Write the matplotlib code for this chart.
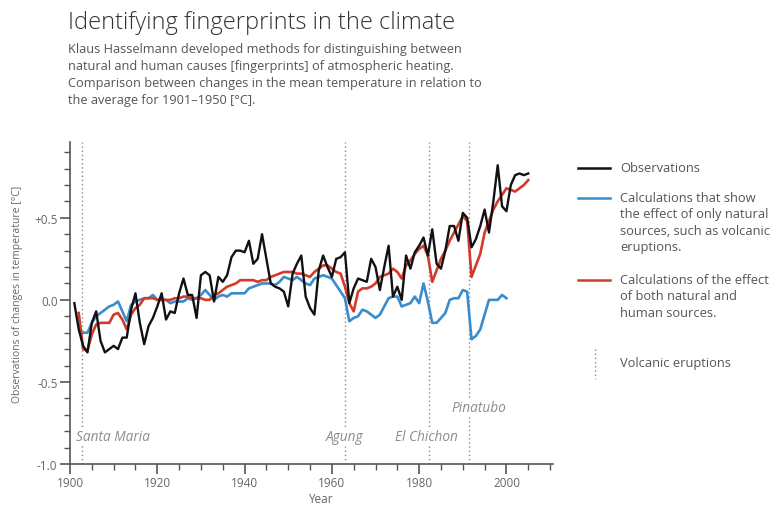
import matplotlib.pyplot as plt
import numpy as np

obs_years = np.arange(1901, 2006)
obs = [-0.02, -0.18, -0.28, -0.32, -0.14, -0.07, -0.25, -0.32, -0.30, -0.28,
       -0.30, -0.23, -0.23, -0.06, 0.04, -0.14, -0.27, -0.16, -0.11, -0.04,
       0.04, -0.12, -0.07, -0.08, 0.04, 0.13, 0.03, 0.03, -0.11, 0.15,
       0.17, 0.15, -0.01, 0.14, 0.11, 0.15, 0.26, 0.30, 0.30, 0.29,
       0.36, 0.22, 0.25, 0.40, 0.25, 0.10, 0.08, 0.07, 0.05, -0.04,
       0.16, 0.22, 0.27, 0.02, -0.05, -0.09, 0.18, 0.27, 0.20, 0.14,
       0.25, 0.26, 0.29, -0.02, 0.07, 0.13, 0.12, 0.11, 0.25, 0.20,
       0.06, 0.20, 0.33, 0.02, 0.08, 0.00, 0.27, 0.19, 0.29, 0.33,
       0.38, 0.27, 0.43, 0.22, 0.19, 0.30, 0.45, 0.45, 0.36, 0.53,
       0.50, 0.32, 0.37, 0.45, 0.55, 0.41, 0.60, 0.82, 0.57, 0.54,
       0.70, 0.76, 0.77, 0.76, 0.77]

# model: natural forcing only
nat_years = np.arange(1903, 2001)
natural = [-0.20, -0.20, -0.14, -0.10, -0.08, -0.06, -0.04, -0.03, -0.01, -0.07,
           -0.13, -0.03, -0.01, 0.00, 0.01, 0.01, 0.03, 0.00, 0.00, 0.00,
           -0.02, -0.01, -0.01, -0.01, 0.01, 0.00, 0.01, 0.03, 0.06, 0.03,
           0.00, 0.02, 0.03, 0.02, 0.04, 0.04, 0.04, 0.04, 0.07, 0.08,
           0.09, 0.10, 0.10, 0.10, 0.09, 0.11, 0.14, 0.13, 0.12, 0.14,
           0.12, 0.10, 0.09, 0.13, 0.14, 0.15, 0.14, 0.13, 0.09, 0.05,
           0.01, -0.13, -0.11, -0.10, -0.06, -0.07, -0.09, -0.11, -0.09, -0.04,
           0.01, 0.02, 0.02, -0.04, -0.03, -0.02, 0.02, -0.02, 0.10, -0.01,
           -0.14, -0.14, -0.11, -0.08, 0.00, 0.01, 0.01, 0.06, 0.05, -0.24,
           -0.22, -0.18, -0.09, 0.00, 0.00, 0.00, 0.03, 0.01]

# model: natural + human forcing
all_years = np.arange(1902, 2006)
combined = [-0.08, -0.30, -0.31, -0.21, -0.15, -0.14, -0.14, -0.14, -0.09, -0.08,
            -0.12, -0.18, -0.09, -0.05, -0.03, 0.01, 0.01, 0.01, 0.00, 0.00,
            0.00, 0.00, 0.01, 0.01, 0.02, 0.02, 0.01, 0.01, 0.01, 0.00,
            0.00, 0.03, 0.04, 0.06, 0.08, 0.09, 0.10, 0.12, 0.12, 0.12,
            0.12, 0.11, 0.12, 0.12, 0.14, 0.15, 0.16, 0.17, 0.17, 0.17,
            0.16, 0.16, 0.15, 0.14, 0.17, 0.19, 0.21, 0.21, 0.19, 0.17,
            0.16, 0.08, -0.02, -0.07, 0.05, 0.07, 0.07, 0.08, 0.10, 0.14,
            0.15, 0.16, 0.19, 0.17, 0.13, 0.21, 0.24, 0.28, 0.31, 0.33,
            0.27, 0.11, 0.18, 0.25, 0.30, 0.36, 0.41, 0.46, 0.51, 0.48,
            0.14, 0.21, 0.28, 0.41, 0.48, 0.55, 0.60, 0.64, 0.68, 0.67,
            0.66, 0.68, 0.70, 0.73]

volcano_names = ['Santa Maria', 'Agung', 'El Chichon', 'Pinatubo']
volcano_years = [1902.7, 1963, 1982.2, 1991.5]

x_ticks = [1900, 1920, 1940, 1960, 1980, 2000]
y_ticks = [-1.0, -0.5, 0.0, 0.5]
y_tick_labels = ['-1.0', '-0.5', '0.0', '+0.5']

legend_labels = ['Observations',
                 'Calculations that show\nthe effect of only natural\nsources, such as volcanic\neruptions.',
                 'Calculations of the effect\nof both natural and\nhuman sources.',
                 'Volcanic eruptions']

c_obs = '#111111'
c_nat = '#3a8ccb'
c_all = '#d23a2c'
c_txt = '#555555'
c_axis = '#555555'

plt.rcParams['font.family'] = ['Open Sans', 'DejaVu Sans']

fig = plt.figure(figsize=(7.72, 5.06), dpi=100)
ax = fig.add_axes([70 / 772, 1 - 465 / 506, 482.7 / 772, 321.7 / 506])

# volcanic eruptions
for yr in volcano_years:
    ax.axvline(yr, color='#8a8a8a', lw=1.0, ls=(0, (1, 2)), zorder=1)

ax.plot(nat_years, natural, color=c_nat, lw=1.9, zorder=3)
ax.plot(all_years, combined, color=c_all, lw=1.9, zorder=4)
ax.plot(obs_years, obs, color=c_obs, lw=1.7, zorder=5)

lab_pos = [(1901.4, -0.83), (1958.6, -0.83), (1974.5, -0.83), (1987.3, -0.655)]
for name, (lx, ly) in zip(volcano_names, lab_pos):
    ax.text(lx, ly, name, style='italic', color='#8c8c8c', fontsize=9.8,
            va='center', ha='left', zorder=2,
            bbox=dict(facecolor='white', edgecolor='none', pad=0.5))

ax.set_xlim(1900, 2010.6)
ax.set_ylim(-1.0, 0.96)
ax.set_xticks(x_ticks)
ax.set_xticks(np.arange(1900, 2011, 5), minor=True)
ax.set_yticks(y_ticks)
ax.set_yticklabels(y_tick_labels)
ax.set_yticks(np.arange(-1.0, 0.95, 0.1), minor=True)

for s in ['top', 'right']:
    ax.spines[s].set_visible(False)
for s in ['left', 'bottom']:
    ax.spines[s].set_color(c_axis)
    ax.spines[s].set_linewidth(1.2)

ax.tick_params(which='major', length=7, width=1.2, color=c_axis,
               labelcolor='#666666', labelsize=8.5, pad=2)
ax.tick_params(which='minor', length=4, width=1.0, color=c_axis)

fig.text(18 / 772, 1 - 294 / 506, 'Observations of changes in temperature [°C]',
         color='#666666', fontsize=7.5, rotation=90, ha='center', va='center')
fig.text(308 / 772, 1 - 493 / 506, 'Year', color='#666666', fontsize=8.5,
         ha='left', va='top')

# title block
fig.text(68 / 772, 1 - 11 / 506, 'Identifying fingerprints in the climate',
         fontsize=17, color='#333333', fontweight='light', va='top')
fig.text(68 / 772, 1 - 43 / 506,
         'Klaus Hasselmann developed methods for distinguishing between\n'
         'natural and human causes [fingerprints] of atmospheric heating.\n'
         'Comparison between changes in the mean temperature in relation to\n'
         'the average for 1901\u20131950 [°C].',
         fontsize=9.2, color=c_txt, va='top', linespacing=1.4)

# hand-made legend on the right
leg_y = [169, 199, 281, 364]
leg_col = [c_obs, c_nat, c_all, None]
for lab, py, col in zip(legend_labels, leg_y, leg_col):
    yf = 1 - py / 506
    if col is not None:
        fig.add_artist(plt.Line2D([578 / 772, 610 / 772], [yf, yf],
                                  color=col, lw=1.8))
    else:
        fig.add_artist(plt.Line2D([595 / 772, 595 / 772],
                                  [1 - 350 / 506, 1 - 380 / 506],
                                  color='#8a8a8a', lw=1.0, ls=(0, (1, 2))))
    fig.text(620 / 772, yf + 7 / 506, lab, fontsize=9.3, color=c_txt,
             va='top', ha='left', linespacing=1.35)

fig.savefig('out.png', dpi=100)
